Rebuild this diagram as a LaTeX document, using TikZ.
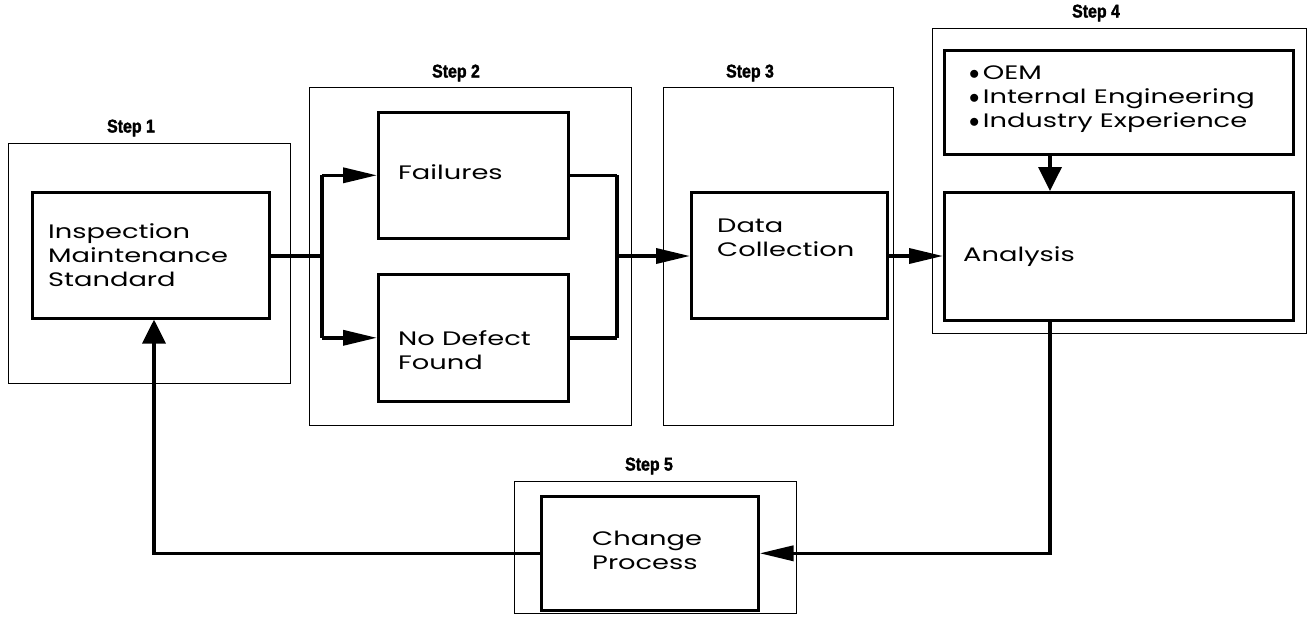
\documentclass[tikz,border=0pt]{standalone}
\usepackage{fontspec}
\setmainfont[FakeStretch=1.4]{Poppins}
\newfontfamily\stepfont[FakeStretch=0.86,BoldFeatures={FakeBold=1.8}]{Liberation Sans}
\usetikzlibrary{arrows.meta}
\tikzset{
  outerbox/.style={draw, line width=0.9pt, inner sep=0pt, anchor=north west},
  procbox/.style={draw, line width=2.6pt, inner sep=0pt, anchor=north west},
  lbl/.style={font=\fontsize{19.5}{24}\selectfont, align=left, anchor=west, inner sep=0pt},
  steplbl/.style={font=\stepfont\bfseries\fontsize{18.5}{18.5}\selectfont, inner sep=0pt},
  conn/.style={line width=3.6pt},
  bus/.style={line width=4.6pt},
  longarrow/.style={-{Triangle[length=34pt,width=15pt]}},
  shortarrow/.style={-{Triangle[length=24pt,width=23pt]}},
}
\begin{document}
\begin{tikzpicture}[x=1pt,y=-1pt]
\useasboundingbox (0,0) rectangle (1311,616);
% outer step frames
\node[outerbox, minimum width=282pt, minimum height=240pt] (o1) at (8,143) {};
\node[outerbox, minimum width=322pt, minimum height=338pt] (o2) at (309,87) {};
\node[outerbox, minimum width=230pt, minimum height=338pt] (o3) at (663,87) {};
\node[outerbox, minimum width=374pt, minimum height=305pt] (o4) at (932,28) {};
\node[outerbox, minimum width=282pt, minimum height=132pt] (o5) at (514,481) {};
% step labels
\node[steplbl] (s1) at (131,128) {Step 1};
\node[steplbl] (s2) at (456,73) {Step 2};
\node[steplbl] (s3) at (750,73) {Step 3};
\node[steplbl] (s4) at (1096,13) {Step 4};
\node[steplbl] (s5) at (649,466) {Step 5};
% process boxes
\node[procbox, minimum width=237pt, minimum height=126pt] (b1) at (31,191) {};
\node[procbox, minimum width=190pt, minimum height=126pt] (fail) at (377,111) {};
\node[procbox, minimum width=190pt, minimum height=127pt] (ndf) at (377,273) {};
\node[procbox, minimum width=196pt, minimum height=126pt] (data) at (690,191) {};
\node[procbox, minimum width=349pt, minimum height=104pt] (src) at (943,49) {};
\node[procbox, minimum width=349pt, minimum height=128pt] (ana) at (943,191) {};
\node[procbox, minimum width=217pt, minimum height=114pt] (cp) at (540,495) {};
% texts
\node[lbl] (t1) at (48,255) {Inspection\\Maintenance\\Standard};
\node[lbl] (tf) at (398,172) {Failures};
\node[lbl] (tn) at (398,350) {No Defect\\Found};
\node[lbl] (td) at (717,238) {Data\\Collection};
\node[lbl] (ts) at (969,99) {$\bullet$\,OEM\\$\bullet$\,Internal Engineering\\$\bullet$\,Industry Experience};
\node[lbl] (ta) at (963,257) {Analysis};
\node[lbl] (tc) at (592,550) {Change\\Process};
% connectors
\coordinate (busL) at (322,256);
\coordinate (busR) at (617,256);
\draw[conn] (b1.east |- busL) -- (busL);
\draw[bus] (busL |- fail.west) -- (busL |- ndf.west);
\draw[conn, longarrow] (busL |- fail.west) -- (fail.west);
\draw[conn, longarrow] (busL |- ndf.west) -- (ndf.west);
\draw[conn] (fail.east) -- (busR |- fail.east);
\draw[conn] (ndf.east) -- (busR |- ndf.east);
\draw[bus] (busR |- fail.east) -- (busR |- ndf.east);
\draw[conn, longarrow] (busR) -- (data.west |- busR);
\draw[conn, longarrow] (data.east |- busR) -- (ana.west |- busR);
\coordinate (dn) at (1050,0);
\draw[conn, shortarrow] (dn |- src.south) -- (dn |- ana.north);
\draw[conn, longarrow] (dn |- ana.south) |- (cp.east);
\coordinate (up) at (154,0);
\draw[conn, shortarrow] (cp.west) -| (up |- b1.south);
\end{tikzpicture}
\end{document}
